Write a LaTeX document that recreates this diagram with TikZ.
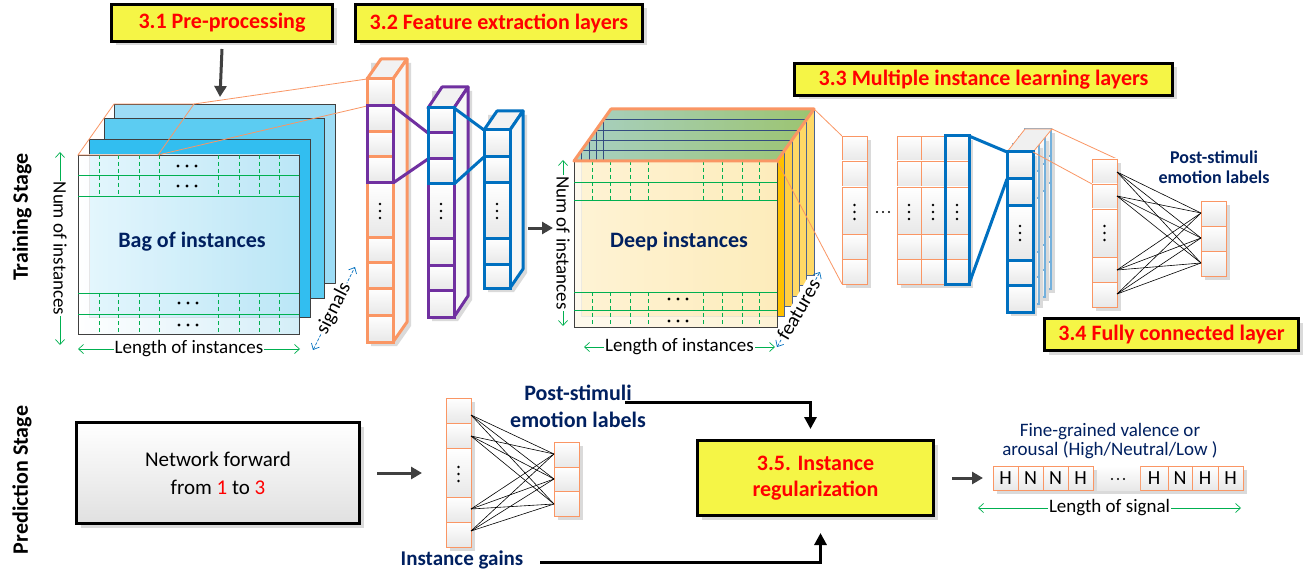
\documentclass[tikz,border=0pt]{standalone}
\usepackage{fontspec}
\setmainfont{Carlito}
\usetikzlibrary{arrows.meta,calc,shadows}
\definecolor{orng}{RGB}{250,150,100}
\definecolor{purp}{RGB}{112,48,160}
\definecolor{blu}{RGB}{0,112,192}
\definecolor{grn}{RGB}{0,176,80}
\definecolor{navy}{RGB}{0,32,96}
\definecolor{yel}{RGB}{245,245,70}
\definecolor{dgray}{RGB}{64,64,64}
\definecolor{shad}{RGB}{218,218,218}
\definecolor{goldA}{RGB}{255,192,0}
\definecolor{goldB}{RGB}{255,206,70}
\definecolor{goldC}{RGB}{255,217,102}
\definecolor{bagA}{RGB}{157,220,245}
\definecolor{bagB}{RGB}{92,204,242}
\definecolor{bagC}{RGB}{50,190,240}
\definecolor{bagF}{RGB}{206,236,248}
\definecolor{topL}{RGB}{168,208,196}
\definecolor{topR}{RGB}{156,196,112}
\definecolor{cream}{RGB}{253,241,208}
\newcommand{\fsz}[1]{\fontsize{#1}{#1}\selectfont}
\newcommand{\colcells}[4]{\foreach \ya/\yb in {#3}{\draw[cellfill,#4] (#1,\ya) rectangle (#2,\yb);}}
\newcommand{\vdts}[2]{\foreach \dd in {-1,0,1}{\fill ({#1},{#2+7*\dd}) circle (1.4);}}
\newcommand{\hdts}[2]{\foreach \dd in {-1,0,1}{\fill ({#1+9*\dd},{#2}) circle (1.7);}}
\newcommand{\sdts}[2]{\foreach \dd in {-1,0,1}{\fill ({#1+6*\dd},{#2}) circle (1.1);}}
\begin{document}
\begin{tikzpicture}[x=1pt,y=-1pt,
 cellfill/.style={top color=white,bottom color=black!9},
 title/.style={draw=black,line width=3pt,fill=yel,text=red,font=\fsz{22}\bfseries,inner sep=0pt,align=center,drop shadow={shadow xshift=4pt,shadow yshift=-4pt,fill=shad,opacity=1}},
 garrow/.style={dgray,line width=3pt,-{Triangle[length=11pt,width=12pt]}},
 barrow/.style={black,line width=3pt,-{Triangle[length=12pt,width=12pt]}},
 dimarrow/.style={grn,line width=0.7pt,{Straight Barb[length=5pt,width=9pt]}-{Straight Barb[length=5pt,width=9pt]}},
 dimblue/.style={blu,line width=0.7pt,dash pattern=on 3pt off 1.5pt,{Straight Barb[length=5pt,width=9pt]}-{Straight Barb[length=5pt,width=9pt]}},
 dimtxt/.style={fill=white,inner sep=1pt,text=black,font=\fsz{19}},
 lbl/.style={text=navy,font=\fsz{22}\bfseries},
 gridh/.style={grn,line width=0.8pt},
 gridv/.style={grn,line width=0.8pt,dash pattern=on 4pt off 3pt},
 fcline/.style={black,line width=0.6pt}]
\useasboundingbox (0,0) rectangle (1314,580);
\fill[white] (0,0) rectangle (1314,580);

% stage labels
\node[font=\fsz{22}\bfseries,rotate=90] (train) at (22,217) {Training Stage};
\node[font=\fsz{22}\bfseries,rotate=90] (pred) at (22,480) {Prediction Stage};

% title boxes
\node[title,minimum width=221,minimum height=37] (t31) at (222,23) {3.1 Pre-processing};
\node[title,minimum width=287,minimum height=37] (t32) at (499,23) {3.2 Feature extraction layers};
\node[title,minimum width=378,minimum height=32] (t33) at (983.5,79.5) {3.3 Multiple instance learning layers};
\node[title,minimum width=254,minimum height=32] (t34) at (1171.5,334.5) {3.4 Fully connected layer};

% ---------- bag of instances ----------
\draw[dgray,fill=bagA] (114,104) rectangle (335,283);
\draw[dgray,fill=bagB] (104,118) rectangle (324,298);
\draw[dgray,fill=bagC] (89,139) rectangle (310,317);
\draw[dgray,left color=white,right color=bagF,fill opacity=0.88] (78,155) rectangle (299,334);
\foreach \yy in {175,196,293,314} \draw[gridh] (78,\yy) -- (299,\yy);
\foreach \xx in {99,118,139,159,218,239,259,279}{\draw[gridv] (\xx,155) -- (\xx,196); \draw[gridv] (\xx,293) -- (\xx,334);}
\hdts{187}{166}\hdts{187}{186}\hdts{188}{303}\hdts{188}{325}
\node[lbl] (bag) at (192,242) {Bag of instances};
\coordinate (bagtop) at (220,97);
\draw[garrow] (t31.south |- 0,49) -- (bagtop);
\draw[dimarrow] (60,152) -- (60,345) node[midway,dimtxt,rotate=-90] (numA) {Num of instances};
\draw[dimarrow] (78,349) -- (300,349) node[midway,dimtxt] (lenA) {Length of instances};
\draw[dimblue] (313,350) -- (355,267) node[midway,dimtxt,font=\fsz{20},rotate=63] (sig) {signals};

% ---------- feature extraction columns ----------
% orange column
\fill[shad] (371,63) -- (411,63) -- (411,326) -- (397,346) -- (371,346) -- cycle;
\draw[orng,line width=3pt,fill=black!5,line join=round] (367,79) -- (381,59) -- (407,59) -- (393,79) -- cycle;
\draw[orng,line width=3pt,fill=black!3,line join=round] (393,79) -- (407,59) -- (407,322) -- (393,342) -- cycle;
\colcells{367}{393}{79/106,106/132,132/157,157/183,183/237,237/262,262/288,288/315,315/342}{draw=orng,line width=3pt}
\vdts{380}{211}
\coordinate (ocolTop) at (367,79);
\coordinate (ocolIn) at (367,106);
\draw[orng,line width=0.8pt] (78,155) -- (114,104) -- (194,104) -- (158,155) -- cycle;
\draw[orng,line width=0.8pt] (194,104) -- (ocolTop);
\draw[orng,line width=0.8pt] (158,155) -- (ocolIn);
\draw[purp,line width=3pt] (367,106) rectangle (393,183);
% purple column
\fill[shad] (432,91) -- (472,91) -- (472,300) -- (458,321) -- (432,321) -- cycle;
\draw[purp,line width=3pt,fill=black!5,line join=round] (428,108) -- (442,87) -- (468,87) -- (454,108) -- cycle;
\draw[purp,line width=3pt,fill=black!3,line join=round] (454,108) -- (468,87) -- (468,296) -- (454,317) -- cycle;
\colcells{428}{454}{108/133,133/159,159/184,184/238,238/265,265/290,290/317}{draw=purp,line width=3pt}
\vdts{441}{211}
\draw[purp,line width=3pt] (393,106) -- (428,133);
\draw[purp,line width=3pt] (393,183) -- (428,159);
\draw[blu,line width=3pt] (428,108) rectangle (454,184);
% blue column
\fill[shad] (488,115) -- (527,115) -- (527,273) -- (514,292) -- (488,292) -- cycle;
\draw[blu,line width=3pt,fill=black!5,line join=round] (484,130) -- (497,111) -- (523,111) -- (510,130) -- cycle;
\draw[blu,line width=3pt,fill=black!3,line join=round] (510,130) -- (523,111) -- (523,269) -- (510,288) -- cycle;
\colcells{484}{510}{130/157,157/183,183/238,238/264,264/288}{draw=blu,line width=3pt}
\vdts{497}{211}
\draw[blu,line width=3pt] (454,108) -- (484,130);
\draw[blu,line width=3pt] (454,184) -- (484,157);
\coordinate (featOut) at (528,228);
\coordinate (deepIn) at (553,228);
\draw[garrow] (featOut) -- (deepIn);

% ---------- deep instances ----------
\foreach \k/\cc in {5/goldC,4/goldC,3/goldC,2/goldB,1/goldA}{
  \draw[navy!70,fill=\cc] ({574+7.4*\k},{161-10.4*\k}) rectangle ({777+7.4*\k},{327-10.4*\k});}
\fill[left color=topL,right color=topR] (574,161) -- (611,109) -- (814,109) -- (777,161) -- cycle;
\foreach \k in {1,...,4}{
  \draw[navy!80] ({574+7.4*\k},{161-10.4*\k}) -- ({777+7.4*\k},{161-10.4*\k});
  \draw[navy!80] ({574+7.4*\k},{161-10.4*\k}) -- ({574+7.4*\k},161);}
\draw[dgray,left color=white!60!cream,right color=cream,fill opacity=0.9] (574,161) rectangle (777,327);
\foreach \yy in {182,200,292,310} \draw[gridh] (574,\yy) -- (777,\yy);
\foreach \xx in {592,610,630,648,703,722,742,759}{\draw[gridv] (\xx,161) -- (\xx,200); \draw[gridv] (\xx,292) -- (\xx,327);}
\hdts{678}{299}\hdts{678}{321}
\draw[orng,line width=3pt,line join=round] (574,161) -- (611,109) -- (814,109) -- (777,161) -- cycle;
\node[lbl] (deep) at (679,242) {Deep instances};
\draw[dimarrow] (563,160) -- (563,326) node[midway,dimtxt,rotate=-90] (numB) {Num of instances};
\draw[dimarrow] (584,347) -- (775,347) node[midway,dimtxt] (lenB) {Length of instances};
\draw[dimblue] (777,347) -- (820,272) node[midway,dimtxt,font=\fsz{20},rotate=60] (feat) {features};

% ---------- MIL columns ----------
\draw[orng,line width=0.8pt] (814,109) -- (842,136);
\draw[orng,line width=0.8pt] (777,161) -- (842,284);
\fill[shad] (846,140) rectangle (871,288);
\colcells{842}{867}{136/161,161/187,187/234,234/259,259/284}{draw=orng}
\vdts{854.5}{212}
\sdts{883}{212}
\fill[shad] (901,140) rectangle (973,288);
\foreach \xa/\xb in {897/921,921/945,945/969}{
  \colcells{\xa}{\xb}{136/161,161/187,187/234,234/259,259/284}{draw=orng}
  \vdts{(\xa+\xb)/2}{212}}
\draw[blu,line width=3pt] (945,136) rectangle (969,284);
\draw[blu,line width=3pt] (969,136) -- (1007,152);
\draw[blu,line width=3pt] (969,284) -- (1007,179);
% stacked blue column
\foreach \k in {3,2,1}{
 \begin{scope}[shift={({6*\k},{-7.7*\k})}]
  \fill[shad] (1011,156) rectangle (1037,316);
  \colcells{1007}{1033}{152/179,179/206,206/260,260/285,285/312}{draw=blu!55,line width=2pt}
 \end{scope}}
\draw[orng,fill=black!6,line width=0.8pt] (1007,152) -- (1025,129) -- (1052,129) -- (1033,152) -- cycle;
\fill[shad] (1011,156) rectangle (1037,316);
\colcells{1007}{1033}{152/179,179/206,206/260,260/285,285/312}{draw=blu,line width=3pt}
\vdts{1020}{233}
\draw[orng,line width=0.8pt] (1052,129) -- (1117,159);
\draw[orng,line width=0.8pt] (1033,152) -- (1092,184);
% fully connected
\fill[shad] (1096,163) rectangle (1121,311);
\colcells{1092}{1117}{159/184,184/209,209/257,257/282,282/307}{draw=orng}
\vdts{1104.5}{233}
\fill[shad] (1205,205) rectangle (1230,280);
\colcells{1201}{1226}{201/226,226/251,251/276}{draw=orng}
\foreach \a in {172,196,270,294}{\foreach \b in {213,238,263}{\draw[fcline] (1117,\a) -- (1201,\b);}}
\node[text=navy,font=\fontsize{18}{20}\selectfont\bfseries,align=center] (psA) at (1214,167) {Post-stimuli\\emotion labels};

% ---------- prediction stage ----------
\node[draw=black,line width=3pt,top color=white,bottom color=black!12,minimum width=283,minimum height=101,align=center,font=\fontsize{21}{28}\selectfont,drop shadow={shadow xshift=4pt,shadow yshift=-4pt,fill=shad,opacity=1}] (net) at (218,473) {Network forward\\from {\color{red}1} to {\color{red}3}};
\draw[garrow] ($(net.east)+(16,0)$) -- ++(45,0);
\fill[shad] (450,402) rectangle (475,551);
\colcells{446}{471}{398/423,423/448,448/497,497/522,522/547}{draw=orng}
\vdts{458.5}{474}
\fill[shad] (558,446) rectangle (583,520);
\colcells{554}{579}{442/467,467/491,491/516}{draw=orng}
\foreach \a in {415,436,509,531}{\foreach \b in {454,479,504}{\draw[fcline] (471,\a) -- (554,\b);}}
\node[lbl] (psB) at (578,393) {Post-stimuli};
\node[lbl] (elB) at (578,420) {emotion labels};
\node[text=navy,font=\fsz{21}\bfseries] (ig) at (462,560) {Instance gains};
\node[title,minimum width=236,minimum height=75,font=\fontsize{22}{26}\selectfont\bfseries] (reg) at (815.5,478) {3.5. Instance\\regularization};
\coordinate (psEnd) at (625,402);
\coordinate (igEnd) at (540,562);
\draw[barrow] (psEnd) -| ($(reg.north)+(-5,-10)$);
\draw[barrow] (igEnd) -| ($(reg.south)+(5,16)$);
\draw[garrow] ($(reg.east)+(17,0)$) -- ++(31,0);
% output sequence
\fill[shad] (997,470) rectangle (1247,494);
\foreach \xa/\xb/\t in {993/1018/H,1018/1043/N,1043/1068/N,1068/1093/H,1140/1168/H,1168/1192/N,1192/1218/H,1218/1243/H}{
  \draw[cellfill,draw=orng] (\xa,466) rectangle (\xb,490);
  \node[font=\fsz{20}] (h\xa) at ({(\xa+\xb)/2},478) {\t};}
\fill[cellfill] (1097,466) rectangle (1140,490);
\sdts{1118}{479}
\node[text=navy,font=\fontsize{19}{19}\selectfont,align=center] (fg) at (1110,441) {Fine-grained valence or\\arousal (High/Neutral/Low )};
\draw[dimarrow] (978,508) -- (1241,508) node[midway,dimtxt] (los) {Length of signal};
\end{tikzpicture}
\end{document}
